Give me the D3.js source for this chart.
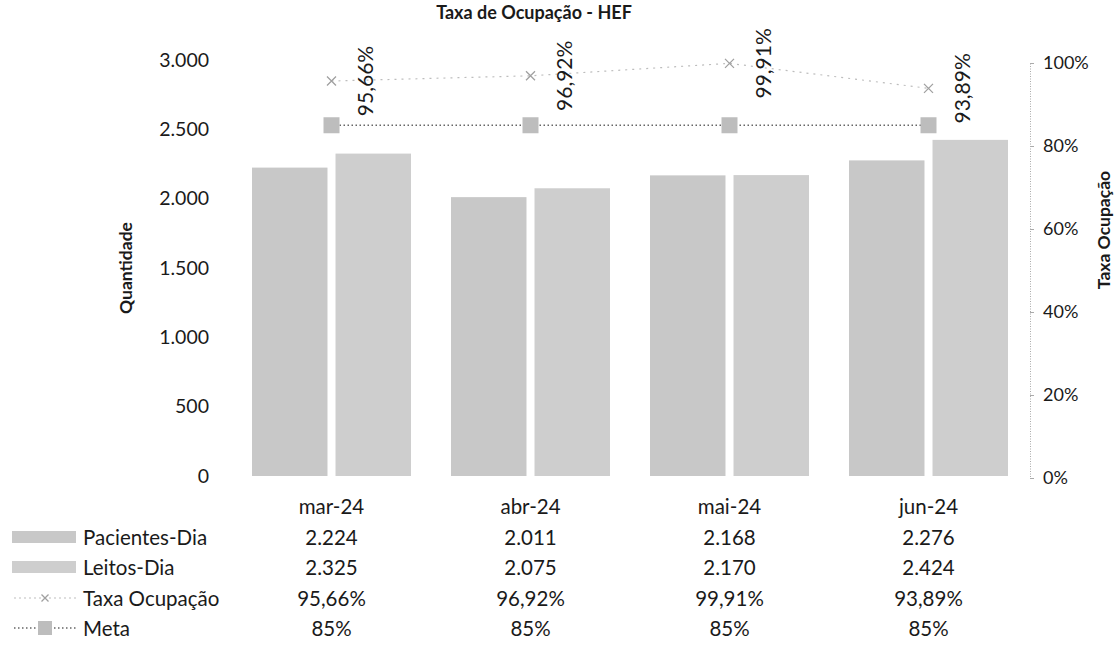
<!DOCTYPE html>
<html>
<head>
<meta charset="utf-8">
<script src="https://cdn.jsdelivr.net/npm/d3@7"></script>
<style>
  body { margin: 0; background: #fff; }
  svg text { font-family: Lato, "Open Sans", sans-serif; fill: #1a1a1a; }
</style>
</head>
<body>
<svg id="chart"></svg>
<script>
const months = ['mar-24', 'abr-24', 'mai-24', 'jun-24'];
const pacientesDia = [2224, 2011, 2168, 2276];
const leitosDia = [2325, 2075, 2170, 2424];
const taxaOcupacao = [0.9566, 0.9692, 0.9991, 0.9389];
const meta = [0.85, 0.85, 0.85, 0.85];
const leftTicks = [0, 500, 1000, 1500, 2000, 2500, 3000];
const rightTicks = [0, 0.2, 0.4, 0.6, 0.8, 1.0];

const w = 1120;
const h = 659;

const svg = d3.select('#chart')
  .attr('width', w)
  .attr('height', h);

const fmtInt = d3.formatLocale({decimal: ',', thousands: '.', grouping: [3], currency: ['R$', '']}).format(',d');
const fmtPct = (v) => (v * 100).toFixed(2).replace('.', ',') + '%';
const fmtPct0 = (v) => Math.round(v * 100) + '%';

const xScale = d3.scaleBand()
  .domain(months)
  .range([232, 1028]);

const xInner = d3.scaleBand()
  .domain(['p', 'l'])
  .range([20, xScale.bandwidth() - 20])
  .paddingInner(0.096);

const yLeft = d3.scaleLinear().domain([0, 3000]).range([476, 60]);
const yRight = d3.scaleLinear().domain([0, 1]).range([478, 63]);

const barColor = {p: '#c8c8c8', l: '#cecece'};
const fs = 20.5;

// title
svg.append('text')
  .attr('x', 534).attr('y', 19)
  .attr('text-anchor', 'middle')
  .attr('font-size', 18).attr('font-weight', 'bold')
  .text('Taxa de Ocupação - HEF');

// left axis (labels only)
const yAxisL = d3.axisLeft(yLeft)
  .tickValues(leftTicks)
  .tickSize(0)
  .tickPadding(0)
  .tickFormat(fmtInt);

svg.append('g')
  .attr('transform', 'translate(209,0)')
  .call(yAxisL)
  .call(g => g.select('.domain').remove())
  .call(g => g.selectAll('text').attr('font-size', 19.5).attr('fill', '#1a1a1a')
    .style('font-family', 'Lato, sans-serif'));

svg.append('text')
  .attr('transform', 'translate(132,268) rotate(-90)')
  .attr('text-anchor', 'middle')
  .attr('font-size', 17.5).attr('font-weight', 'bold')
  .text('Quantidade');

// right axis
const yAxisR = d3.axisRight(yRight)
  .tickValues(rightTicks)
  .tickSize(4)
  .tickPadding(9)
  .tickFormat(fmtPct0);

svg.append('g')
  .attr('transform', 'translate(1030,0)')
  .call(yAxisR)
  .call(g => g.select('.domain').attr('stroke', '#aaa').attr('stroke-dasharray', '1,1.5'))
  .call(g => g.selectAll('.tick line').attr('stroke', '#aaa'))
  .call(g => g.selectAll('text').attr('font-size', 18).attr('fill', '#1a1a1a')
    .style('font-family', 'Lato, sans-serif'));

svg.append('text')
  .attr('transform', 'translate(1110,230) rotate(-90)')
  .attr('text-anchor', 'middle')
  .attr('font-size', 17.5).attr('font-weight', 'bold')
  .text('Taxa Ocupação');

// bars
const groups = svg.append('g').selectAll('g')
  .data(months)
  .enter()
  .append('g')
  .attr('transform', (d) => 'translate(' + xScale(d) + ',0)');

groups.selectAll('rect')
  .data((d, i) => [{k: 'p', v: pacientesDia[i]}, {k: 'l', v: leitosDia[i]}])
  .enter()
  .append('rect')
  .attr('x', (d) => xInner(d.k))
  .attr('width', xInner.bandwidth())
  .attr('y', (d) => yLeft(d.v))
  .attr('height', (d) => yLeft(0) - yLeft(d.v))
  .attr('fill', (d) => barColor[d.k]);

const cx = (d, i) => xScale(months[i]) + xScale.bandwidth() / 2;

// taxa line
const taxaLine = d3.line()
  .x((d, i) => cx(d, i))
  .y((d) => yRight(d));

svg.append('path')
  .datum(taxaOcupacao)
  .attr('d', taxaLine)
  .attr('fill', 'none')
  .attr('stroke', '#bdbdbd')
  .attr('stroke-width', 1.2)
  .attr('stroke-dasharray', '2,5');

function xMark(sel, x, y, s) {
  sel.append('path')
    .attr('d', 'M' + (x - s) + ',' + (y - s) + 'L' + (x + s) + ',' + (y + s) +
      'M' + (x - s) + ',' + (y + s) + 'L' + (x + s) + ',' + (y - s))
    .attr('stroke', '#a0a0a0')
    .attr('stroke-width', 1.3);
}

taxaOcupacao.forEach((v, i) => xMark(svg, cx(v, i), yRight(v), 4.5));

// meta line
const metaLine = d3.line()
  .x((d, i) => cx(d, i))
  .y((d) => yRight(d));

svg.append('path')
  .datum(meta)
  .attr('d', metaLine)
  .attr('fill', 'none')
  .attr('stroke', '#666')
  .attr('stroke-width', 1.5)
  .attr('stroke-dasharray', '1.5,2.5');

svg.append('g').selectAll('rect')
  .data(meta)
  .enter()
  .append('rect')
  .attr('x', (d, i) => cx(d, i) - 8)
  .attr('y', (d) => yRight(d) - 8)
  .attr('width', 16).attr('height', 16)
  .attr('fill', '#bdbdbd');

// data labels for taxa (rotated)
svg.append('g').selectAll('text')
  .data(taxaOcupacao)
  .enter()
  .append('text')
  .attr('transform', (d, i) => 'translate(' + (cx(d, i) + 33) + ',' + yRight(d) + ') rotate(-90)')
  .attr('text-anchor', 'middle')
  .attr('dominant-baseline', 'central')
  .attr('font-size', 21)
  .text(fmtPct);

// data table
const rowY = [506, 537, 567, 598, 628];

svg.append('g').selectAll('text')
  .data(months)
  .enter()
  .append('text')
  .attr('x', (d) => xScale(d) + xScale.bandwidth() / 2)
  .attr('y', rowY[0])
  .attr('text-anchor', 'middle')
  .attr('dominant-baseline', 'central')
  .attr('font-size', fs)
  .text((d) => d);

const rows = [
  {name: 'Pacientes-Dia', vals: pacientesDia, f: fmtInt, key: 'p'},
  {name: 'Leitos-Dia', vals: leitosDia, f: fmtInt, key: 'l'},
  {name: 'Taxa Ocupação', vals: taxaOcupacao, f: fmtPct, key: 'taxa'},
  {name: 'Meta', vals: meta, f: fmtPct0, key: 'meta'}
];

rows.forEach((r, ri) => {
  const y = rowY[ri + 1];
  svg.append('g').selectAll('text')
    .data(r.vals)
    .enter()
    .append('text')
    .attr('x', (d, i) => cx(d, i))
    .attr('y', y)
    .attr('text-anchor', 'middle')
    .attr('dominant-baseline', 'central')
    .attr('font-size', fs)
    .text(r.f);

  svg.append('text')
    .attr('x', 83).attr('y', y)
    .attr('dominant-baseline', 'central')
    .attr('font-size', fs)
    .text(r.name);

  // legend keys
  if (r.key === 'p' || r.key === 'l') {
    svg.append('rect')
      .attr('x', 12).attr('y', y - 6)
      .attr('width', 64).attr('height', 12)
      .attr('fill', barColor[r.key]);
  } else if (r.key === 'taxa') {
    svg.append('line')
      .attr('x1', 14).attr('x2', 76).attr('y1', y).attr('y2', y)
      .attr('stroke', '#bdbdbd').attr('stroke-width', 1.2)
      .attr('stroke-dasharray', '2,3');
    xMark(svg, 45, y, 3.5);
  } else {
    svg.append('line')
      .attr('x1', 14).attr('x2', 76).attr('y1', y).attr('y2', y)
      .attr('stroke', '#666').attr('stroke-width', 1.5)
      .attr('stroke-dasharray', '1.5,2.5');
    svg.append('rect')
      .attr('x', 38).attr('y', y - 7)
      .attr('width', 14).attr('height', 14)
      .attr('fill', '#bdbdbd');
  }
});
</script>
</body>
</html>
